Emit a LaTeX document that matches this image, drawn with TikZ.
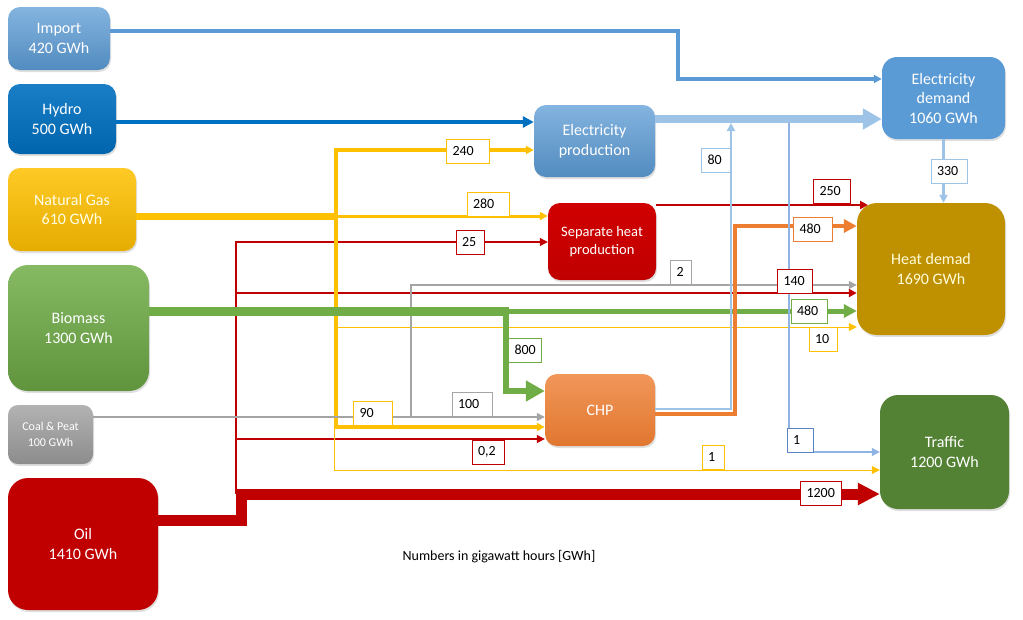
\documentclass[tikz,border=0pt]{standalone}
\usepackage{fontspec}
\setmainfont{Carlito}
\usetikzlibrary{arrows.meta,shadows}
\definecolor{impblue}{HTML}{5B9BD5}
\definecolor{hydblue}{HTML}{0070C0}
\definecolor{elecblue}{HTML}{9DC3E6}
\definecolor{thinblue}{HTML}{8FB4E3}
\definecolor{labblue}{HTML}{5B84C4}
\definecolor{gasyel}{HTML}{FFC000}
\definecolor{biogreen}{HTML}{70AD47}
\definecolor{coalgray}{HTML}{A5A5A5}
\definecolor{oilred}{HTML}{C00000}
\definecolor{sepred}{HTML}{D00000}
\definecolor{chporange}{HTML}{ED7D31}
\definecolor{heatgold}{HTML}{BF9000}
\definecolor{traffgreen}{HTML}{548235}
\begin{document}
\begin{tikzpicture}[x=1pt,y=-1pt,
  box/.style={rounded corners=12pt,text=white,align=center,inner sep=0pt,
    font=\fontsize{16}{19.5}\selectfont,
    drop shadow={opacity=0.25,shadow xshift=1pt,shadow yshift=-2pt}},
  lbl/.style={fill=white,line width=1pt,text=black,align=left,minimum height=24pt,
    inner xsep=6pt,inner ysep=0pt,font=\fontsize{14}{14}\selectfont},
  tipS/.style={-{Triangle[length=8pt,width=8pt]}},
  tipM/.style={-{Triangle[length=13pt,width=13pt]}},
  tipL/.style={-{Triangle[length=19pt,width=20pt]}},
  tipXL/.style={-{Triangle[length=22pt,width=21pt]}}]
\useasboundingbox (0,0) rectangle (1023,619);

\node[box,minimum width=102,minimum height=63,top color=impblue!75!white,bottom color=impblue!90!black](import) at (59,38.5) {Import\\420 GWh};
\node[box,minimum width=108,minimum height=70,top color=hydblue!90!white,bottom color=hydblue!90!black](hydro) at (62,119) {Hydro\\500 GWh};
\node[box,minimum width=128,minimum height=83,top color=gasyel!85!white,bottom color=gasyel!90!black,text=white!90!yellow](gas) at (72,209.5) {Natural Gas\\610 GWh};
\node[box,rounded corners=20pt,minimum width=141,minimum height=126,top color=biogreen!85!white,bottom color=biogreen!85!black](biomass) at (78.5,328) {Biomass\\1300 GWh};
\node[box,rounded corners=10pt,minimum width=85,minimum height=59,top color=coalgray!85!white,bottom color=coalgray!85!black,font=\fontsize{12}{15.5}\selectfont](coal) at (50.5,434.5) {Coal \& Peat\\100 GWh};
\node[box,rounded corners=20pt,minimum width=150,minimum height=132,fill=oilred](oil) at (83,544) {Oil\\1410 GWh};

\node[box,minimum width=121,minimum height=72,top color=impblue!75!white,bottom color=impblue!90!black](elecprod) at (594.5,141) {Electricity\\production};
\node[box,minimum width=108,minimum height=77,top color=sepred,bottom color=oilred,font=\fontsize{14.5}{18}\selectfont](sepheat) at (602,241.5) {Separate heat\\production};
\node[box,minimum width=110,minimum height=72,top color=chporange!80!white,bottom color=chporange!95!black](chp) at (600,410) {CHP};

\node[box,rounded corners=15pt,minimum width=123,minimum height=82,fill=impblue](elecdem) at (943.5,98) {Electricity\\demand\\1060 GWh};
\node[box,rounded corners=20pt,minimum width=148,minimum height=132,fill=heatgold,text=white!85!yellow](heatdem) at (931,269) {Heat demad\\1690 GWh};
\node[box,rounded corners=18pt,minimum width=129,minimum height=114,fill=traffgreen](traffic) at (944.5,452) {Traffic\\1200 GWh};

\coordinate (gj) at (336,216);
\coordinate (gj1) at (334,427);
\coordinate (oj) at (236,494);
\coordinate (bj) at (506,311);
\coordinate (e80) at (731,123);
\coordinate (e1) at (789,123);
\coordinate (hd250) at (868,205);

\draw[draw=impblue,line width=4pt,tipS] (import.east |- 0,31) -| (678,79) -- (elecdem.west |- 0,79);
\draw[draw=hydblue,line width=3.5pt,-{Triangle[length=11pt,width=11pt]}] (hydro.east |- 0,122) -- (elecprod.west |- 0,122);

\draw[draw=oilred,line width=11pt,tipXL] (oil.east |- 0,520) -| (241,494) -- (traffic.west |- 0,494);
\draw[draw=oilred,line width=2pt,tipS] (oj) |- (heatdem.west |- 0,293);
\draw[draw=oilred,line width=1.2pt,tipS] (oj |- 0,294) |- (sepheat.west |- 0,242);
\draw[draw=oilred,line width=1.2pt,tipS] (oj |- 0,439) -- (chp.west |- 0,439);
\draw[draw=oilred,line width=2.5pt,tipS] (sepheat.east |- 0,205) -- (hd250);

\draw[draw=gasyel,line width=7pt] (gas.east |- 0,216) -- (338,216);
\draw[draw=gasyel,line width=3.5pt,tipS] (gj) |- (elecprod.west |- 0,150);
\draw[draw=gasyel,line width=3pt,tipS] (gj) -- (sepheat.west |- 0,216);
\draw[draw=gasyel,line width=3.5pt,tipS] (gj) |- (chp.west |- 0,427);
\draw[draw=gasyel,line width=1pt,tipS] (gj |- 0,327) -- (heatdem.west |- 0,327);
\draw[draw=gasyel,line width=1pt,tipS] (gj1) |- (traffic.west |- 0,470);

\draw[draw=coalgray,line width=1.5pt,tipS] (coal.east |- 0,417) -- (chp.west |- 0,417);
\draw[draw=coalgray,line width=1.5pt,tipS] (411,417) |- (heatdem.west |- 0,285);

\draw[draw=biogreen,line width=9pt] (biomass.east |- 0,311) -- (509,311);
\draw[draw=biogreen,line width=5pt,tipM] (bj) -- (heatdem.west |- 0,311);
\draw[draw=biogreen,line width=6pt,tipL] (bj) |- (chp.west |- 0,391);

\draw[draw=chporange,line width=4.5pt,tipM] (chp.east |- 0,414) -| (735,226) -- (heatdem.west |- 0,226);
\draw[draw=elecblue,line width=2.5pt,tipS] (chp.east |- 0,409) -| (e80);
\draw[draw=thinblue,line width=1.2pt,tipS] (e1) |- (traffic.west |- 0,452);
\draw[draw=elecblue,line width=8pt,tipL] (elecprod.east |- 0,119) -- (elecdem.west |- 0,119);
\draw[draw=elecblue,line width=3pt,tipS] (elecdem.south) -- (elecdem.south |- heatdem.north);

\foreach \px/\py/\c/\w/\t [count=\i] in {468/151/gasyel/31/240, 488/204/gasyel/30/280,
  470/242/oilred/16/25, 832/191/oilred/25/250, 813/229/chporange/27/480, 681/272/coalgray/9/2,
  795/281/oilred/23/140, 809/311/biogreen/24/480, 823/339/gasyel/16/10, 525/350/biogreen/21/800,
  373/413/gasyel/27/90, 472/404/coalgray/28/100, 488/452/oilred/20/{0,2}, 713/457/gasyel/10/1,
  800/440/labblue/14/1, 821/493/oilred/29/1200, 716/160/elecblue/17/80, 949/171/elecblue/24/330}
  \node[lbl,draw=\c,text width=\w pt](lbl\i) at (\px,\py) {\t};

\node[font=\fontsize{14}{16}\selectfont](note) at (499,557) {Numbers in gigawatt hours [GWh]};
\end{tikzpicture}
\end{document}
